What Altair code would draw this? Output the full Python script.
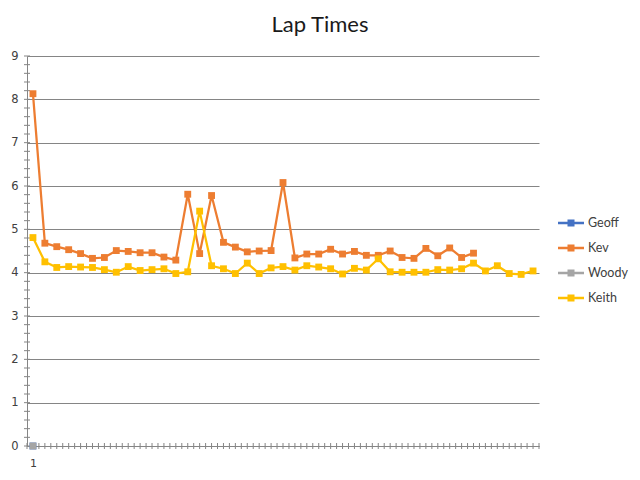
import altair as alt
import pandas as pd

# ---- data ----
series_names = ["Geoff", "Kev", "Woody", "Keith"]
series_colors = ["#4472C4", "#ED7D31", "#A5A5A5", "#FFC000"]

geoff = [0.0]
woody = [0.0]
kev = [8.13, 4.68, 4.60, 4.53, 4.44, 4.33, 4.35, 4.51, 4.49, 4.46,
       4.46, 4.36, 4.29, 5.81, 4.44, 5.78, 4.70, 4.59, 4.48, 4.50,
       4.51, 6.08, 4.34, 4.43, 4.43, 4.54, 4.43, 4.49, 4.40, 4.40,
       4.50, 4.35, 4.33, 4.56, 4.39, 4.57, 4.35, 4.45]
keith = [4.81, 4.25, 4.12, 4.14, 4.13, 4.12, 4.07, 4.01, 4.14, 4.05,
         4.07, 4.09, 3.98, 4.02, 5.42, 4.16, 4.09, 3.98, 4.22, 3.98,
         4.11, 4.14, 4.06, 4.16, 4.13, 4.09, 3.97, 4.10, 4.06, 4.32,
         4.02, 4.01, 4.01, 4.01, 4.07, 4.06, 4.09, 4.22, 4.04, 4.16,
         3.98, 3.96, 4.04]

n_laps = 43
y_label_values = list(range(0, 10))
x_label_values = [1]
y_minor_ticks = [round(i * 0.2, 1) for i in range(0, 46)]
x_minor_ticks = [i * 0.5 for i in range(1, 2 * n_laps + 2)]

rows = []
for name, vals in [("Geoff", geoff), ("Kev", kev), ("Woody", woody), ("Keith", keith)]:
    for i, v in enumerate(vals):
        rows.append({"series": name, "lap": i + 1, "time": v})
df = pd.DataFrame(rows)

W, H = 512, 390
AXIS_GRAY = "#858585"
TEXT = "#404040"

xs = alt.Scale(domain=[0.5, n_laps + 0.5], nice=False, zero=False)
ys = alt.Scale(domain=[0, 9], nice=False)

x_axis = alt.Axis(values=x_label_values, ticks=False, grid=False, title=None,
                  domainColor=AXIS_GRAY, labelPadding=11, labelFont="DejaVu Sans",
                  labelFontSize=11, labelColor=TEXT)
y_axis = alt.Axis(values=y_label_values, ticks=False, grid=True, gridColor=AXIS_GRAY,
                  title=None, domainColor=AXIS_GRAY, labelPadding=9,
                  labelFont="DejaVu Sans", labelFontSize=11.5, labelColor=TEXT)

# line segment + square marker, drawn as filled shapes in the unit box
legend_symbol = ("M-1,-0.087L1,-0.087L1,0.087L-1,0.087Z"
                 "M-0.27,-0.27L0.27,-0.27L0.27,0.27L-0.27,0.27Z")
color = alt.Color(
    "series:N",
    scale=alt.Scale(domain=series_names, range=series_colors),
    legend=alt.Legend(
        title=None, orient="none", legendX=531, legendY=154,
        symbolType=legend_symbol, symbolSize=676, symbolStrokeWidth=0,
        symbolOpacity=1,
        labelFont="Lato", labelFontSize=12.5, labelColor=TEXT, labelOffset=4,
    ),
)

base = alt.Chart(df).encode(
    x=alt.X("lap:Q", scale=xs, axis=x_axis),
    y=alt.Y("time:Q", scale=ys, axis=y_axis),
    color=color,
    order=alt.Order("lap:Q"),
)

lines = base.mark_line(strokeWidth=2.25)
points = base.mark_point(shape="square", filled=True, size=47, opacity=1)

yt = alt.Chart(pd.DataFrame({"v": y_minor_ticks})).mark_rule(color=AXIS_GRAY).encode(
    y=alt.Y("v:Q", scale=ys, axis=y_axis), x=alt.value(-3), x2=alt.value(3))
xt = alt.Chart(pd.DataFrame({"v": x_minor_ticks})).mark_rule(color=AXIS_GRAY).encode(
    x=alt.X("v:Q", scale=xs, axis=x_axis), y=alt.value(H - 3), y2=alt.value(H + 3))

chart = alt.layer(yt, xt, lines, points).properties(
    width=W, height=H,
    background="white",
    title=alt.TitleParams("Lap Times", font="Lato", fontSize=22, fontWeight="normal",
                          color="#1a1a1a", anchor="middle", dx=37, offset=13),
    autosize=alt.AutoSizeParams(type="none"),
    padding={"left": 19, "top": 48, "right": 93, "bottom": 26},
).configure_view(stroke=None).configure_legend(rowPadding=5)

chart.save("out.html", embed_options={"renderer": "svg", "actions": False})
